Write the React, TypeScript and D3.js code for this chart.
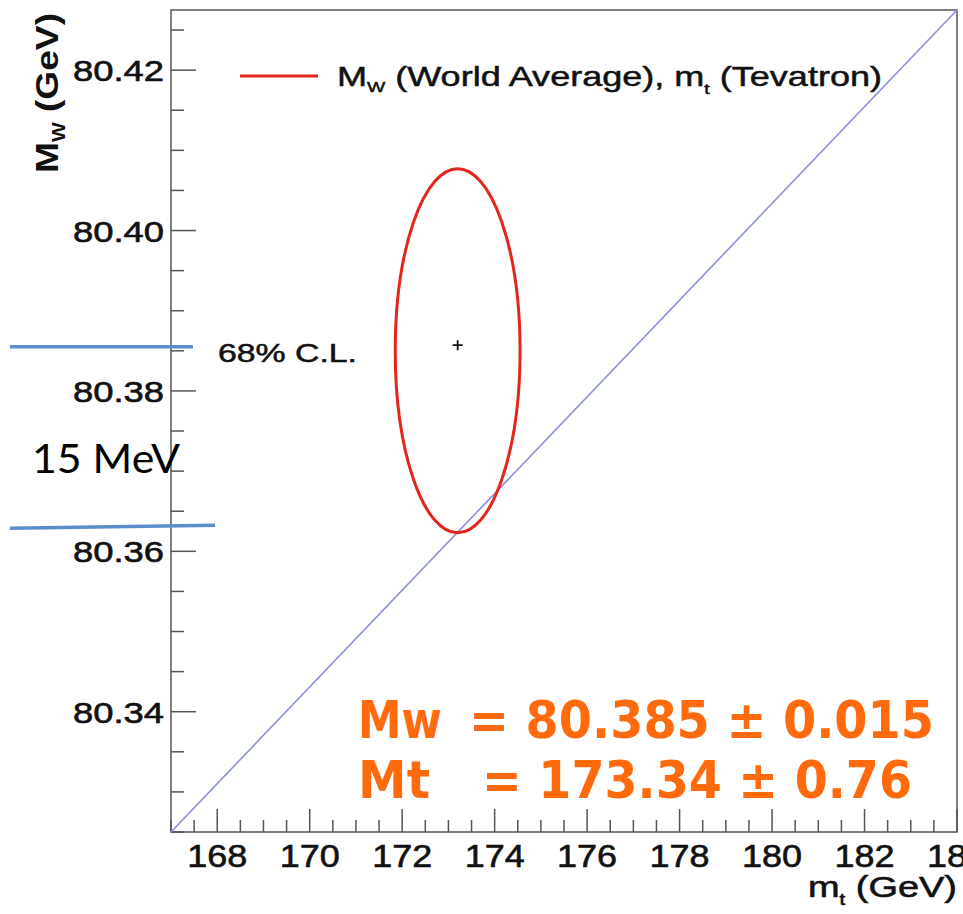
import { useEffect, useRef } from 'react';
import * as d3 from 'd3';

// axis ranges (GeV)
const xDomain = [167, 184];
const yDomain = [80.325, 80.4275];
const xTickLabels = [168, 170, 172, 174, 176, 178, 180, 182, 184];
const yTickLabels = [80.34, 80.36, 80.38, 80.4, 80.42];

// diagonal reference line, corner to corner
const lineMt = [167, 184];
const lineMw = [80.325, 80.4275];

// 68% C.L. contour and best-fit point
const ellipseCenter = [173.2, 80.385];
const ellipseRadii = [1.35, 0.0227];
const bestFit = [173.2, 80.3857];

// slide annotations: the 15 MeV band edges
const bandMw = [80.3855, 80.3630];

const W = 963;
const H = 914;
const margin = { top: 10, right: 6, bottom: 82, left: 171 };

const App = () => {
  const svgRef = useRef<SVGSVGElement>(null);

  useEffect(() => {
    const svg = d3.select(svgRef.current);
    svg.selectAll('*').remove();

    const x = d3.scaleLinear().domain(xDomain).range([margin.left, W - margin.right]);
    const y = d3.scaleLinear().domain(yDomain).range([H - margin.bottom, margin.top]);
    const x0 = x.range()[0], x1 = x.range()[1];
    const y0 = y.range()[0], y1 = y.range()[1];
    const axisColor = '#555';
    const font = '"Liberation Sans", Arial, sans-serif';
    const ink = '#111';

    // Frame
    svg.append('rect')
      .attr('x', x0).attr('y', y1)
      .attr('width', x1 - x0).attr('height', y0 - y1)
      .attr('fill', 'white')
      .attr('stroke', axisColor)
      .attr('stroke-width', 1.5);

    // X ticks
    const xMinor = d3.range(xDomain[0], xDomain[1] + 0.001, 0.5);
    svg.selectAll('.xtick')
      .data(xMinor)
      .enter()
      .append('line')
      .attr('x1', d => x(d)).attr('x2', d => x(d))
      .attr('y1', y0)
      .attr('y2', d => (d % 2 === 0 ? y0 - 23 : y0 - 12))
      .attr('stroke', axisColor)
      .attr('stroke-width', 1.5);

    // Y ticks
    const yMinor = d3.range(0, 21).map(i => +(80.325 + i * 0.005).toFixed(3)).filter(d => d <= yDomain[1]);
    svg.selectAll('.ytick')
      .data(yMinor)
      .enter()
      .append('line')
      .attr('y1', d => y(d)).attr('y2', d => y(d))
      .attr('x1', x0)
      .attr('x2', d => (Math.round(d * 1000) % 20 === 0 ? x0 + 25 : x0 + 13))
      .attr('stroke', axisColor)
      .attr('stroke-width', 1.5);

    // Tick labels
    svg.selectAll('.xlabel')
      .data(xTickLabels)
      .enter()
      .append('text')
      .attr('x', d => x(d))
      .attr('y', y0 + 35)
      .attr('text-anchor', 'middle')
      .attr('textLength', 60)
      .attr('lengthAdjust', 'spacingAndGlyphs')
      .style('font-family', font)
      .style('font-size', '31px')
      .style('fill', ink)
      .style('stroke', ink)
      .style('stroke-width', 0.6)
      .text(d => d);

    svg.selectAll('.ylabel')
      .data(yTickLabels)
      .enter()
      .append('text')
      .attr('x', 164)
      .attr('y', d => y(d) + 11)
      .attr('text-anchor', 'end')
      .attr('textLength', 91)
      .attr('lengthAdjust', 'spacingAndGlyphs')
      .style('font-family', font)
      .style('font-size', '29px')
      .style('fill', ink)
      .style('stroke', ink)
      .style('stroke-width', 0.6)
      .text(d => d.toFixed(2));

    // Axis titles
    const xt = svg.append('text')
      .attr('x', x1)
      .attr('y', 897)
      .attr('text-anchor', 'end')
      .attr('textLength', 149)
      .attr('lengthAdjust', 'spacingAndGlyphs')
      .style('font-family', font)
      .style('font-size', '30px')
      .style('fill', ink)
      .style('stroke', ink)
      .style('stroke-width', 0.6);
    xt.append('tspan').text('m');
    xt.append('tspan').attr('dy', 8).style('font-size', '16px').text('t');
    xt.append('tspan').attr('dy', -8).text(' (GeV)');

    const yt = svg.append('text')
      .attr('transform', 'translate(58,93) rotate(-90)')
      .attr('text-anchor', 'middle')
      .attr('textLength', 160)
      .attr('lengthAdjust', 'spacingAndGlyphs')
      .style('font-family', font)
      .style('font-weight', 'bold')
      .style('font-size', '32px')
      .style('fill', ink);
    yt.append('tspan').text('M');
    yt.append('tspan').attr('dy', 7).style('font-size', '18px').text('W');
    yt.append('tspan').attr('dy', -7).text(' (GeV)');

    // Diagonal line
    svg.append('line')
      .attr('x1', x(lineMt[0])).attr('y1', y(lineMw[0]))
      .attr('x2', x(lineMt[1])).attr('y2', y(lineMw[1]))
      .attr('stroke', '#8a8ee0')
      .attr('stroke-width', 1.6);

    // Ellipse
    svg.append('ellipse')
      .attr('cx', x(ellipseCenter[0]))
      .attr('cy', y(ellipseCenter[1]))
      .attr('rx', x(ellipseCenter[0] + ellipseRadii[0]) - x(ellipseCenter[0]))
      .attr('ry', y(ellipseCenter[1]) - y(ellipseCenter[1] + ellipseRadii[1]))
      .attr('fill', 'none')
      .attr('stroke', '#e3261c')
      .attr('stroke-width', 3);

    // Best-fit marker
    const cx = x(bestFit[0]), cy = y(bestFit[1]);
    svg.append('path')
      .attr('d', `M${cx - 5},${cy}H${cx + 5}M${cx},${cy - 5}V${cy + 5}`)
      .attr('stroke', '#111')
      .attr('stroke-width', 1.8);

    // Legend
    svg.append('line')
      .attr('x1', 240).attr('x2', 318)
      .attr('y1', 76).attr('y2', 76)
      .attr('stroke', '#e3261c')
      .attr('stroke-width', 3);
    const lg = svg.append('text')
      .attr('x', 337)
      .attr('y', 86)
      .attr('textLength', 545)
      .attr('lengthAdjust', 'spacingAndGlyphs')
      .style('font-family', font)
      .style('font-size', '28px')
      .style('fill', ink)
      .style('stroke', ink)
      .style('stroke-width', 0.5);
    lg.append('tspan').text('M');
    lg.append('tspan').attr('dy', 6).style('font-size', '15px').text('W');
    lg.append('tspan').attr('dy', -6).text(' (World Average), m');
    lg.append('tspan').attr('dy', 8).style('font-size', '15px').text('t');
    lg.append('tspan').attr('dy', -8).text(' (Tevatron)');

    svg.append('text')
      .attr('x', 218)
      .attr('y', 362)
      .attr('textLength', 139)
      .attr('lengthAdjust', 'spacingAndGlyphs')
      .style('font-family', font)
      .style('font-size', '25px')
      .style('fill', ink)
      .style('stroke', ink)
      .style('stroke-width', 0.5)
      .text('68% C.L.');

    // Slide annotations
    svg.append('line')
      .attr('x1', 10).attr('x2', 193)
      .attr('y1', y(bandMw[0])).attr('y2', y(bandMw[0]))
      .attr('stroke', '#5b8dcb')
      .attr('stroke-width', 3.5);
    svg.append('line')
      .attr('x1', 10).attr('x2', 215)
      .attr('y1', y(bandMw[1]) + 1).attr('y2', y(bandMw[1]) - 2)
      .attr('stroke', '#5b8dcb')
      .attr('stroke-width', 3.5);

    svg.append('text')
      .attr('x', 32)
      .attr('y', 473)
      .attr('textLength', 148)
      .attr('lengthAdjust', 'spacingAndGlyphs')
      .style('font-family', 'Lato, "Open Sans", sans-serif')
      .style('font-size', '41px')
      .style('fill', '#000')
      .text('15 MeV');

    const orange = '#ff6a0d';
    const rows = [
      { label: 'Mw', value: '= 80.385 ± 0.015', y: 738, x2: 469, w1: 84, w2: 465 },
      { label: 'Mt', value: '= 173.34 ± 0.76', y: 798, x2: 482, w1: 72, w2: 430 },
    ];
    rows.forEach(r => {
      svg.append('text')
        .attr('x', 358).attr('y', r.y)
        .attr('textLength', r.w1)
        .attr('lengthAdjust', 'spacingAndGlyphs')
        .style('font-family', '"Comic Sans MS", "DejaVu Sans", sans-serif')
        .style('font-weight', 'bold')
        .style('font-size', '52px')
        .style('fill', orange)
        .text(r.label);
      svg.append('text')
        .attr('x', r.x2).attr('y', r.y)
        .attr('textLength', r.w2)
        .attr('lengthAdjust', 'spacingAndGlyphs')
        .style('font-family', '"Comic Sans MS", "DejaVu Sans", sans-serif')
        .style('font-weight', 'bold')
        .style('font-size', '52px')
        .style('fill', orange)
        .text(r.value);
    });
  }, []);

  return (
    <svg
      ref={svgRef}
      width={W}
      height={H}
      style={{ position: 'absolute', left: 0, top: 0, background: 'white' }}
    />
  );
};

export default App;
